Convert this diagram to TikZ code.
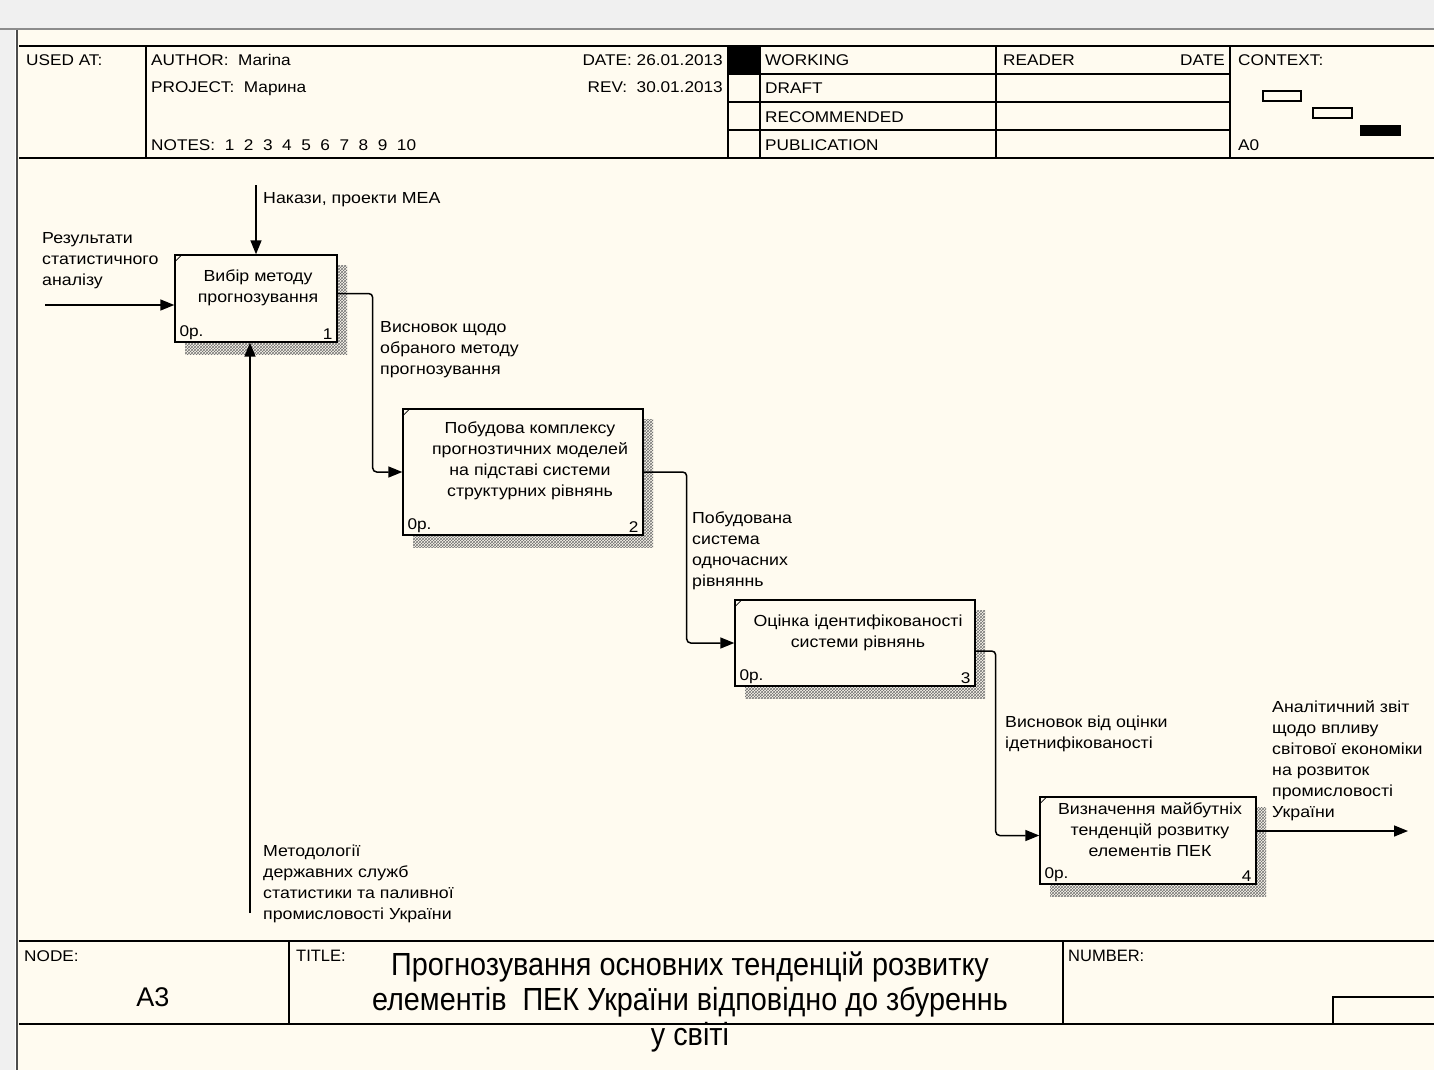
\documentclass[tikz,border=0pt]{standalone}
\usepackage{fontspec}
\setmainfont{Liberation Sans}
\newfontfamily\narrowfont[FakeStretch=0.9]{Liberation Sans}
\newfontfamily\wideface[FakeStretch=1.11]{Liberation Sans}
\usetikzlibrary{arrows.meta}
\usetikzlibrary{positioning}
\usetikzlibrary{patterns}
\definecolor{canvas}{RGB}{255,251,240}
\definecolor{chrome}{RGB}{240,240,240}

\begin{document}
\begin{tikzpicture}[x=1pt,y=-1pt,
    flow/.style={-{Triangle[length=14pt,width=11pt]},line width=1.5pt,rounded corners=4pt},
    fnbox/.style={draw,line width=1.4pt,fill=canvas,inner sep=0pt},
    boxtxt/.style={align=center,font=\wideface\fontsize{16}{21}\selectfont,inner sep=0pt},
    lbl/.style={align=left,anchor=north west,font=\wideface\fontsize{16}{21}\selectfont,inner sep=0pt},
    hdr/.style={anchor=base west,font=\wideface\fontsize{15.5}{18}\selectfont,inner sep=0pt},
    corner/.style={font=\wideface\fontsize{15.5}{18}\selectfont,inner sep=0pt},
    small/.style={anchor=base west,font=\fontsize{16.5}{18}\selectfont,inner sep=0pt},
    frame/.style={line width=1.3pt}]
    \useasboundingbox (0,0) rectangle (1434,1070);
    % window and sheet
    \fill[chrome] (0,0) rectangle (1434,29);
    \fill[chrome] (0,29) rectangle (15,1070);
    \draw[black!45,line width=2pt] (0,29) -- (1434,29);
    \fill[canvas] (17,30) rectangle (1434,1070);
    \draw[black!70,line width=2.5pt] (17,30) -- (17,1070);
    % header
    \draw[frame] (19,46) -- (1434,46);
    \draw[frame] (19,158) -- (1434,158);
    \draw[frame] (146,46) -- (146,158);
    \draw[frame] (728,46) -- (728,158);
    \draw[frame] (760,46) -- (760,158);
    \draw[frame] (996,46) -- (996,158);
    \draw[frame] (1230,46) -- (1230,158);
    \foreach \yy in {74,102,130}
        \draw[frame] (728,\yy) -- (1230,\yy);
    \fill (728,46) rectangle (760,74);
    \node[hdr] (usedat) at (26,66) {USED AT:};
    \node[hdr] (author) at (151,66) {AUTHOR:\ \ Marina};
    \node[hdr] (project) at (151,93) {PROJECT:\ \ Марина};
    \node[hdr] (notes) at (151,150) {NOTES:\ \ 1\ \ 2\ \ 3\ \ 4\ \ 5\ \ 6\ \ 7\ \ 8\ \ 9\ \ 10};
    \node[hdr,anchor=base east] (date) at (723,66) {DATE: 26.01.2013};
    \node[hdr,anchor=base east] (rev) at (723,93) {REV:\ \ 30.01.2013};
    \node[hdr] (working) at (765,66) {WORKING};
    \node[hdr] (draft) at (765,94) {DRAFT};
    \node[hdr] (recom) at (765,122) {RECOMMENDED};
    \node[hdr] (publ) at (765,150) {PUBLICATION};
    \node[hdr] (reader) at (1003,66) {READER};
    \node[hdr,anchor=base east] (rdate) at (1225,66) {DATE};
    \node[hdr] (context) at (1238,66) {CONTEXT:};
    \node[hdr] (ctxnode) at (1238,150) {A0};
    \draw[line width=1.2pt] (1263,91) rectangle (1301,101);
    \draw[line width=1.2pt] (1313,108) rectangle (1352,118);
    \fill (1360,125) rectangle (1401,136);
    % shadows
    \foreach \l/\t/\r/\b in {175/255/337/342,403/409/643/535,735/600/975/686,1040/797/1256/884}{
        \fill[pattern=crosshatch,pattern color=black!55] (\r,\t+10) rectangle (\r+10,\b+12);
        \fill[pattern=crosshatch,pattern color=black!55] (\l+10,\b) rectangle (\r,\b+12);
    }
    % activity boxes
    \node[fnbox,minimum width=162,minimum height=87] (b1) at (256,298.5) {};
    \node[fnbox,minimum width=240,minimum height=126] (b2) at (523,472) {};
    \node[fnbox,minimum width=240,minimum height=86] (b3) at (855,643) {};
    \node[fnbox,minimum width=216,minimum height=87] (b4) at (1148,840.5) {};
    \foreach \b in {b1,b2,b3,b4}
        \draw[line width=0.8pt] ([yshift=-8pt]\b.north west) -- ([xshift=8pt]\b.north west);
    \node[boxtxt,below=15pt of b1.north,xshift=2pt] (t1) {Вибір методу\\прогнозування};
    \node[boxtxt,below=13pt of b2.north,xshift=7pt] (t2) {Побудова комплексу\\прогнозтичних моделей\\на підставі системи\\структурних рівнянь};
    \node[boxtxt,below=15pt of b3.north,xshift=3pt] (t3) {Оцінка ідентифікованості\\системи рівнянь};
    \node[boxtxt,below=6pt of b4.north,xshift=2pt] (t4) {Визначення майбутніх\\тенденцій розвитку\\елементів ПЕК};
    \foreach \b/\n in {b1/1,b2/2,b3/3,b4/4}{
        \node[corner,above right=3pt and 5pt of \b.south west] (\b p) {0р.};
        \node[corner,above left=3pt and 5pt of \b.south east] (\b n) {\n};
    }
    % arrows
    \coordinate (in1) at (45,305);
    \coordinate (ctl1) at (256,185);
    \coordinate (mech1) at (250,913);
    \coordinate (out4) at (1408,831);
    \draw[flow] (in1) -- ([yshift=-6.5pt]b1.west);
    \draw[flow] (ctl1) -- (b1.north);
    \draw[flow] (mech1) -- (mech1 |- b1.south);
    \draw[flow] ([yshift=5pt]b1.east) -- ++(35,0) |- (b2.west);
    \draw[flow] (b2.east) -- ++(43,0) |- (b3.west);
    \draw[flow] ([yshift=-8pt]b3.east) -- ++(20,0) |- ([yshift=5pt]b4.west);
    \draw[flow] ([yshift=9.5pt]b4.east) -- (out4);
    % arrow labels
    \node[lbl] (lin1) at (42,232) {Результати\\статистичного\\аналізу};
    \node[lbl] (lctl1) at (263,192) {Накази, проекти МЕА};
    \node[lbl] (lmech1) at (263,845) {Методології\\державних служб\\статистики та паливної\\промисловості України};
    \node[lbl] (l12) at (380,321) {Висновок щодо\\обраного методу\\прогнозування};
    \node[lbl] (l23) at (692,512) {Побудована\\система\\одночасних\\рівняннь};
    \node[lbl] (l34) at (1005,716) {Висновок від оцінки\\ідетнифікованості};
    \node[lbl] (lout4) at (1272,700) {Аналітичний звіт\\щодо впливу\\світової економіки\\на розвиток\\промисловості\\України};
    % footer
    \draw[frame] (19,941) -- (1434,941);
    \draw[frame] (19,1024) -- (1434,1024);
    \draw[frame] (289,941) -- (289,1024);
    \draw[frame] (1063,941) -- (1063,1024);
    \draw[frame] (1333,1024) -- (1333,997) -- (1434,997);
    \node[hdr] (nodelbl) at (24,961) {NODE:};
    \node[font=\fontsize{27}{30}\selectfont,inner sep=0pt] (nodeid) at (153,997) {A3};
    \node[small] (titlelbl) at (296,961) {TITLE:};
    \node[align=center,anchor=north,inner sep=0pt,font=\narrowfont\fontsize{32}{35}\selectfont] (title) at (690,952)
        {Прогнозування основних тенденцій розвитку\\елементів\ \ ПЕК України відповідно до збуреннь\\у світі};
    \node[small] (numlbl) at (1068,961) {NUMBER:};
\end{tikzpicture}
\end{document}
